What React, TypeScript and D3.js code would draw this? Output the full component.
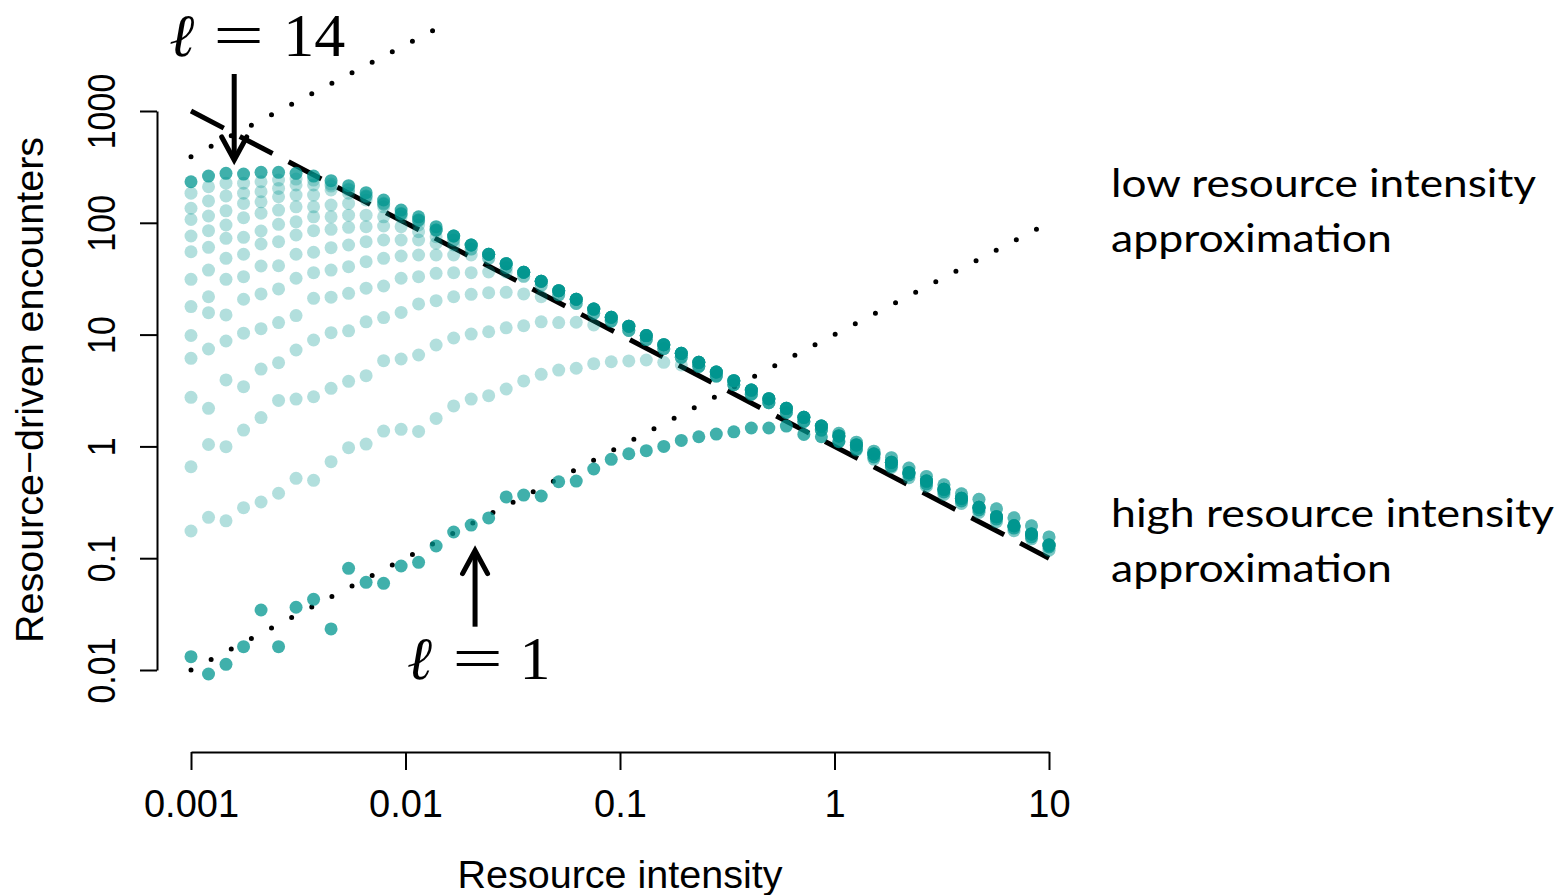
import { useEffect, useRef } from "react"
import * as d3 from "d3"

// x grid: resource intensity (50 log-spaced values)
const resourceIntensity = [
  0.001, 0.001207, 0.001456, 0.001758, 0.002121, 0.00256, 0.003089, 0.003728, 0.004498, 0.005429,
  0.006551, 0.007906, 0.009541, 0.01151, 0.01389, 0.01677, 0.02024, 0.02442, 0.02947, 0.03556,
  0.04292, 0.05179, 0.06251, 0.07543, 0.09103, 0.1099, 0.1326, 0.16, 0.1931, 0.233,
  0.2812, 0.3393, 0.4095, 0.4942, 0.5964, 0.7197, 0.8685, 1.048, 1.265, 1.526,
  1.842, 2.223, 2.683, 3.237, 3.907, 4.715, 5.69, 6.866, 8.286, 10,
]

// resource-driven encounters, one array per l
const ell01 = [
  0.01315, 0.00921, 0.01125, 0.01616, 0.0344, 0.01616, 0.0364, 0.0429, 0.0233, 0.0812,
  0.0609, 0.0596, 0.0852, 0.0919, 0.1285, 0.1715, 0.198, 0.229, 0.353, 0.367,
  0.36, 0.483, 0.49, 0.628, 0.767, 0.86, 0.915, 1.0, 1.13, 1.22,
  1.29, 1.35, 1.46, 1.46, 1.52, 1.28, 1.22, 1.1, 0.948, 0.804,
  0.668, 0.555, 0.461, 0.391, 0.325, 0.27, 0.224, 0.186, 0.155, 0.126,
]
const ell02 = [
  0.175, 0.232, 0.216, 0.283, 0.318, 0.381, 0.518, 0.497, 0.73, 0.974,
  1.05, 1.37, 1.42, 1.36, 1.78, 2.3, 2.65, 2.84, 3.26, 3.85,
  4.41, 4.82, 5.0, 5.49, 5.72, 5.81, 5.93, 5.65, 5.35, 5.2,
  4.26, 3.56, 2.93, 2.46, 2.01, 1.67, 1.4, 1.31, 1.09, 0.906,
  0.793, 0.64, 0.539, 0.454, 0.377, 0.336, 0.277, 0.23, 0.195, 0.155,
]
const ell03 = [
  0.658, 1.04, 0.994, 1.4, 1.81, 2.58, 2.65, 2.78, 3.31, 3.82,
  4.29, 5.84, 6.05, 6.57, 8.07, 9.32, 10.1, 10.6, 11.5, 12.0,
  13.0, 12.8, 12.9, 12.2, 13.2, 10.9, 9.03, 7.47, 6.26, 5.2,
  4.26, 3.56, 2.93, 2.46, 2.01, 1.67, 1.4, 1.12, 0.927, 0.77,
  0.649, 0.524, 0.441, 0.372, 0.309, 0.257, 0.212, 0.176, 0.149, 0.118,
]
const ell04 = [
  2.75, 2.19, 3.93, 3.42, 4.92, 5.61, 7.28, 8.95, 10.4, 10.8,
  13.0, 14.2, 15.8, 18.8, 20.1, 21.8, 22.9, 23.7, 23.9, 23.1,
  21.8, 22.7, 19.0, 15.5, 13.2, 10.9, 9.03, 7.47, 6.26, 5.2,
  4.26, 3.56, 2.93, 2.46, 2.01, 1.67, 1.4, 1.31, 1.09, 0.906,
  0.793, 0.64, 0.539, 0.454, 0.377, 0.336, 0.277, 0.23, 0.195, 0.155,
]
const ell05 = [
  6.14, 7.43, 8.77, 10.3, 11.3, 12.8, 14.8, 21.1, 21.6, 23.4,
  26.0, 27.2, 31.9, 33.0, 35.3, 35.8, 35.8, 36.3, 36.3, 36.1,
  30.0, 24.7, 20.7, 16.9, 14.3, 11.9, 9.81, 8.12, 6.8, 5.65,
  4.63, 3.87, 3.19, 2.67, 2.19, 1.82, 1.52, 1.24, 1.03, 0.855,
  0.721, 0.582, 0.49, 0.413, 0.343, 0.285, 0.235, 0.195, 0.165, 0.131,
]
const ell06 = [
  9.82, 15.7, 15.0, 20.7, 23.1, 25.6, 31.9, 35.8, 37.8, 40.5,
  44.9, 48.1, 50.5, 51.5, 51.5, 51.5, 51.5, 52.3, 43.1, 36.1,
  30.0, 24.7, 20.7, 16.9, 14.3, 11.9, 9.81, 8.12, 6.8, 5.65,
  4.63, 3.87, 3.19, 2.67, 2.19, 1.82, 1.52, 1.24, 1.03, 0.855,
  0.721, 0.582, 0.49, 0.413, 0.343, 0.285, 0.235, 0.195, 0.165, 0.131,
]
const ell07 = [
  17.8, 21.8, 31.2, 33.0, 41.1, 41.3, 52.3, 54.5, 59.9, 63.3,
  67.8, 70.2, 70.2, 70.2, 65.6, 63.3, 63.3, 52.3, 43.1, 36.1,
  30.0, 24.7, 20.7, 16.9, 14.3, 11.9, 9.81, 8.12, 6.8, 5.65,
  4.63, 3.87, 3.19, 2.67, 2.19, 1.82, 1.52, 1.24, 1.03, 0.855,
  0.721, 0.582, 0.49, 0.413, 0.343, 0.285, 0.235, 0.195, 0.165, 0.131,
]
const ell08 = [
  31.2, 37.8, 48.1, 52.3, 64.6, 67.8, 77.8, 85.0, 87.5, 91.1,
  92.3, 93.6, 92.3, 83.3, 75.1, 70.1, 58.2, 48.1, 39.7, 33.2,
  27.6, 22.7, 19.0, 15.5, 13.2, 10.9, 9.03, 7.47, 6.26, 5.2,
  4.26, 3.56, 2.93, 2.46, 2.01, 1.67, 1.4, 1.12, 0.927, 0.77,
  0.649, 0.524, 0.441, 0.372, 0.309, 0.257, 0.212, 0.176, 0.149, 0.118,
]
const ell09 = [
  55.1, 60.4, 72.7, 74.2, 84.5, 97.0, 102, 113, 113, 117,
  117, 113, 113, 95.6, 84.5, 76.2, 63.3, 52.3, 43.1, 36.1,
  30.0, 24.7, 20.7, 16.9, 14.3, 11.9, 9.81, 8.12, 6.8, 5.65,
  4.63, 3.87, 3.19, 2.67, 2.19, 1.82, 1.52, 1.24, 1.03, 0.855,
  0.721, 0.582, 0.49, 0.413, 0.343, 0.285, 0.235, 0.195, 0.165, 0.131,
]
const ell10 = [
  76.2, 85.0, 95.6, 111, 122, 130, 139, 139, 144, 149,
  160, 139, 120, 104, 86.2, 70.1, 58.2, 48.1, 39.7, 33.2,
  27.6, 22.7, 19.0, 15.5, 13.2, 10.9, 9.03, 7.47, 6.26, 5.2,
  4.26, 3.56, 2.93, 2.46, 2.01, 1.67, 1.4, 1.31, 1.09, 0.906,
  0.793, 0.64, 0.539, 0.454, 0.377, 0.336, 0.277, 0.23, 0.195, 0.155,
]
const ell11 = [
  107, 115, 128, 149, 154, 171, 177, 177, 197, 184,
  170, 147, 120, 106, 86.2, 76.2, 63.3, 52.3, 43.1, 36.1,
  30.0, 24.7, 20.7, 16.9, 14.3, 11.9, 9.81, 8.12, 6.8, 5.65,
  4.63, 3.87, 3.19, 2.67, 2.19, 1.82, 1.52, 1.24, 1.03, 0.855,
  0.721, 0.582, 0.49, 0.413, 0.343, 0.285, 0.235, 0.195, 0.165, 0.131,
]
const ell12 = [
  135, 157, 174, 184, 190, 203, 218, 218, 213, 197,
  174, 147, 120, 106, 86.2, 76.2, 63.3, 52.3, 43.1, 36.1,
  30.0, 24.7, 20.7, 16.9, 14.3, 11.9, 9.81, 8.12, 6.8, 5.65,
  4.63, 3.87, 3.19, 2.67, 2.19, 1.82, 1.52, 1.24, 1.03, 0.855,
  0.721, 0.582, 0.49, 0.413, 0.343, 0.285, 0.235, 0.195, 0.165, 0.131,
]
const ell13 = [
  184, 210, 226, 226, 233, 241, 246, 241, 222, 201,
  174, 150, 122, 106, 86.2, 76.2, 63.3, 52.3, 43.1, 36.1,
  30.0, 24.7, 20.7, 16.9, 14.3, 11.9, 9.81, 8.12, 6.8, 5.65,
  4.63, 3.87, 3.19, 2.67, 2.19, 1.82, 1.52, 1.24, 1.03, 0.855,
  0.721, 0.582, 0.49, 0.413, 0.343, 0.285, 0.235, 0.195, 0.165, 0.131,
]
const ell14 = [
  233, 262, 277, 273, 283, 283, 277, 262, 238, 215,
  186, 160, 130, 113, 92.3, 76.2, 63.3, 52.3, 43.1, 36.1,
  30.0, 24.7, 20.7, 16.9, 14.3, 11.9, 9.81, 8.12, 6.8, 5.65,
  4.63, 3.87, 3.19, 2.67, 2.19, 1.82, 1.52, 1.24, 1.03, 0.855,
  0.721, 0.582, 0.49, 0.413, 0.343, 0.285, 0.235, 0.195, 0.165, 0.131,
]

const lightSeries = [ell02, ell03, ell04, ell05, ell06, ell07, ell08, ell09, ell10, ell11, ell12, ell13]
const strongSeries = [ell01, ell14]

const xTicks = [0.001, 0.01, 0.1, 1, 10]
const xTickLabels = ["0.001", "0.01", "0.1", "1", "10"]
const yTicks = [0.01, 0.1, 1, 10, 100, 1000]
const yTickLabels = ["0.01", "0.1", "1", "10", "100", "1000"]

// approximation lines [x, y]
const highIntensityApprox = [[0.001, 1000], [10, 0.1]]
const lowIntensityEll1 = [[0.001, 0.01], [10, 100]]
const lowIntensityEll14 = [[0.001, 390], [0.0142, 5540]]

// arrows: x, tail y, tip y (data units)
const arrowEll14 = { x: 0.00159, tail: 2143, tip: 365, label: "14" }
const arrowEll1 = { x: 0.0211, tail: 0.0244, tip: 0.117, label: "1" }

const TEAL = "#00968f"

export default function App() {
  const svgRef = useRef<SVGSVGElement>(null)

  useEffect(() => {
    if (!svgRef.current) return
    const svg = d3.select(svgRef.current)
    svg.selectAll("*").remove()

    const sans = "'Liberation Sans', Arial, Helvetica, sans-serif"
    const x = d3.scaleLog().domain([0.001, 10]).range([191, 1049])
    const y = d3.scaleLog().domain([0.01, 1000]).range([670, 111])
    const line = d3.line<number[]>().x(d => x(d[0])).y(d => y(d[1]))

    // dashed high intensity line
    svg.append("path")
      .attr("d", line(highIntensityApprox))
      .attr("fill", "none")
      .attr("stroke", "#000")
      .attr("stroke-width", 5)
      .attr("stroke-dasharray", "37 18")

    // dotted low intensity lines
    ;[lowIntensityEll1, lowIntensityEll14].forEach(pts => {
      svg.append("path")
        .attr("d", line(pts))
        .attr("fill", "none")
        .attr("stroke", "#000")
        .attr("stroke-width", 5)
        .attr("stroke-linecap", "round")
        .attr("stroke-dasharray", "0 22.7")
    })

    // points
    const drawSeries = (vals: number[], opacity: number) => {
      svg.append("g")
        .selectAll("circle")
        .data(vals.map((v, i) => [resourceIntensity[i], v]))
        .join("circle")
        .attr("cx", d => x(d[0]))
        .attr("cy", d => y(d[1]))
        .attr("r", 6.5)
        .attr("fill", TEAL)
        .attr("fill-opacity", opacity)
    }
    lightSeries.forEach(s => drawSeries(s, 0.3))
    strongSeries.forEach(s => drawSeries(s, 0.75))

    // axes
    const xAxis = d3.axisBottom(x)
      .tickValues(xTicks)
      .tickFormat((_, i) => xTickLabels[i])
      .tickSize(18)
      .tickSizeOuter(0)
    const gx = svg.append("g").attr("transform", "translate(0,752)").call(xAxis)
    gx.select(".domain").attr("stroke-width", 2)
    gx.selectAll(".tick line").attr("stroke-width", 2)
    gx.selectAll(".tick text")
      .attr("y", 65)
      .attr("dy", null)
      .attr("font-size", 38)
      .attr("font-family", sans)
      .attr("fill", "#000")

    const yAxis = d3.axisLeft(y)
      .tickValues(yTicks)
      .tickFormat((_, i) => yTickLabels[i])
      .tickSize(17)
      .tickSizeOuter(0)
    const gy = svg.append("g").attr("transform", "translate(157,0)").call(yAxis)
    gy.select(".domain").attr("stroke-width", 2)
    gy.selectAll(".tick line").attr("stroke-width", 2)
    gy.selectAll(".tick text")
      .attr("x", 0)
      .attr("y", 0)
      .attr("dy", null)
      .attr("text-anchor", "middle")
      .attr("transform", "translate(-42,0) rotate(-90) scale(1,1.16)")
      .attr("font-size", 34)
      .attr("font-family", sans)
      .attr("fill", "#000")

    // axis titles
    svg.append("text")
      .attr("x", 620)
      .attr("y", 888)
      .attr("text-anchor", "middle")
      .attr("font-family", sans)
      .attr("font-size", 39.5)
      .text("Resource intensity")

    svg.append("text")
      .attr("transform", "translate(43,390) rotate(-90)")
      .attr("text-anchor", "middle")
      .attr("font-family", sans)
      .attr("font-size", 39.5)
      .text("Resource\u2212driven encounters")

    // arrows with l labels
    const drawArrow = (a: typeof arrowEll14, labelDy: number, ellDx: number, eqDx: number, numDx: number) => {
      const ax = x(a.x)
      const tail = y(a.tail)
      const tip = y(a.tip)
      const dir = tip > tail ? 1 : -1
      svg.append("path")
        .attr("d", `M${ax},${tail}L${ax},${tip - dir * 3}`)
        .attr("stroke", "#000")
        .attr("stroke-width", 5)
      svg.append("path")
        .attr("d", `M${ax - 12.5},${tip - dir * 23}L${ax},${tip}L${ax + 12.5},${tip - dir * 23}`)
        .attr("fill", "none")
        .attr("stroke", "#000")
        .attr("stroke-width", 5)
        .attr("stroke-linecap", "round")
        .attr("stroke-linejoin", "miter")

      const base = tail + labelDy
      const lbl = svg.append("g").attr("fill", "#000")
      lbl.append("text")
        .attr("x", ax + ellDx)
        .attr("y", base)
        .attr("font-family", "'DejaVu Serif', serif")
        .attr("font-style", "italic")
        .attr("font-size", 60)
        .text("\u2113")
      lbl.append("text")
        .attr("transform", `translate(${ax + eqDx},${base}) scale(1.45,1)`)
        .attr("text-anchor", "middle")
        .attr("font-family", "'Liberation Serif', 'Times New Roman', serif")
        .attr("font-size", 62)
        .text("=")
      lbl.append("text")
        .attr("x", ax + numDx)
        .attr("y", base)
        .attr("text-anchor", "middle")
        .attr("font-family", "'Liberation Serif', 'Times New Roman', serif")
        .attr("font-size", 62)
        .text(a.label)
    }
    drawArrow(arrowEll14, -18, -65, 4.5, 80)
    drawArrow(arrowEll1, 52, -68, 2.5, 60)

    // right-hand notes
    const notes = [
      { text: "low resource intensity", y: 197, len: 425 },
      { text: "approximation", y: 252, len: 281 },
      { text: "high resource intensity", y: 527, len: 443 },
      { text: "approximation", y: 582, len: 281 },
    ]
    svg.append("g")
      .selectAll("text")
      .data(notes)
      .join("text")
      .attr("x", 1111)
      .attr("y", d => d.y)
      .attr("font-family", "Lato, 'Open Sans', sans-serif")
      .attr("font-size", 39)
      .attr("textLength", d => d.len)
      .attr("lengthAdjust", "spacingAndGlyphs")
      .attr("fill", "#000")
      .text(d => d.text)
  }, [])

  return (
    <svg
      ref={svgRef}
      width={1562}
      height={895}
      style={{ position: "absolute", left: 0, top: 0, background: "#fff" }}
    />
  )
}
